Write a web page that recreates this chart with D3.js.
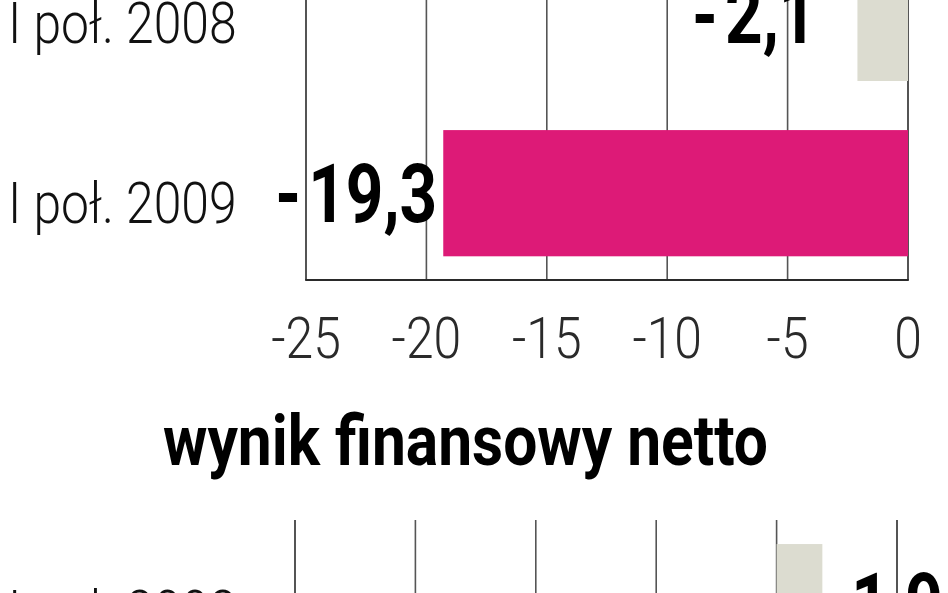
<!DOCTYPE html>
<html>
<head>
<meta charset="utf-8">
<script src="https://cdn.jsdelivr.net/npm/d3@7"></script>
<style>
  html, body { margin: 0; padding: 0; background: #fff; }
  svg { display: block; }
</style>
</head>
<body>
<svg id="chart" width="948" height="593"></svg>
<script>
// ---- data ----
const opCategories = ["I poł. 2008", "I poł. 2009"];
const opValues = [-2.1, -19.3];
const opTicks = [-25, -20, -15, -10, -5, 0];

const netTitle = "wynik finansowy netto";
const netCategories = ["I poł. 2008"];
const netValues = [1.9];
const netTicks = [-20, -15, -10, -5, 0, 5];

// ---- styling ----
const PINK = "#dd1a77";
const GREY = "#dcdcd0";
const fmtAbs = v => d3.format(".1f")(Math.abs(v)).replace(".", ",");

const svg = d3.select("#chart");

function band(cats, top) {
  const step = 175.3, pi = 0.28, po = 0.13;
  return d3.scaleBand().domain(cats)
    .range([top, top + step * (cats.length - pi + 2 * po)])
    .paddingInner(pi).paddingOuter(po);
}

function label(g, txt, x, y, opts) {
  return g.append("text")
    .attr("transform", `translate(${x},${y}) scale(${opts.sx},1)`)
    .attr("text-anchor", opts.anchor || "start")
    .attr("font-family", opts.family || "Roboto")
    .attr("font-weight", opts.weight || 300)
    .attr("font-size", opts.size)
    .attr("fill", opts.fill || "#111")
    .text(txt);
}

function valueLabel(g, v, x, y, anchor) {
  const t = g.append("text")
    .attr("transform", `translate(${x},${y}) scale(0.8,1)`)
    .attr("text-anchor", anchor)
    .attr("font-family", "Roboto")
    .attr("font-weight", 700)
    .attr("font-size", 82)
    .attr("fill", "#000");
  if (v < 0) {
    t.append("tspan").text("-");
    t.append("tspan").attr("dx", 9).text(fmtAbs(v));
  } else {
    t.text(fmtAbs(v));
  }
  return t;
}

function panel(cats, vals, ticks, x0, x1, top, bottom, showAxisLabels, colors) {
  const g = svg.append("g");
  const x = d3.scaleLinear().domain(d3.extent(ticks)).range([x0, x1]);
  const y = band(cats, top);

  // grid lines
  g.selectAll("line.grid").data(ticks).join("line")
    .attr("class", "grid")
    .attr("x1", d => x(d)).attr("x2", d => x(d))
    .attr("y1", top).attr("y2", bottom)
    .attr("stroke", (d, i) => (i === 0 || i === ticks.length - 1) ? "#2a2a2a" : "#555")
    .attr("stroke-width", 1.6);

  if (showAxisLabels) {
    g.append("line")
      .attr("x1", x(ticks[0]) - 0.8).attr("x2", x(ticks[ticks.length - 1]) + 0.8)
      .attr("y1", bottom).attr("y2", bottom)
      .attr("stroke", "#2a2a2a").attr("stroke-width", 1.8);
    ticks.forEach(t => {
      label(g, String(t), x(t), bottom + 78, { sx: 0.86, size: 58, anchor: "middle", fill: "#2a2a2a" });
    });
  }

  // bars
  g.selectAll("rect.bar").data(vals).join("rect")
    .attr("class", "bar")
    .attr("x", d => x(Math.min(0, d)))
    .attr("width", d => Math.abs(x(d) - x(0)))
    .attr("y", (d, i) => y(cats[i]))
    .attr("height", y.bandwidth())
    .attr("fill", (d, i) => colors[i]);

  // category labels
  cats.forEach((c, i) => {
    label(g, c, 8, y(c) + y.bandwidth() / 2 + 25 + i * 5, { sx: 0.86, size: 58, fill: "#111" });
  });

  // value labels
  vals.forEach((v, i) => {
    const cy = y(cats[i]) + y.bandwidth() / 2 + 25 + i * 4;
    if (v < 0) {
      const gap = Math.abs(v) < 5 ? 41 : 6;
      valueLabel(g, v, x(v) - gap, cy, "end");
    } else {
      valueLabel(g, v, x(v) + 29, cy, "start");
    }
  });
  return g;
}

// top panel (operating result)
panel(opCategories, opValues, opTicks, 306, 908, -68, 280, true, [GREY, PINK]);

// title of second panel
svg.append("text")
  .attr("x", 163).attr("y", 465)
  .attr("font-family", "Roboto").attr("font-weight", 700)
  .attr("font-size", 70)
  .attr("textLength", 605).attr("lengthAdjust", "spacingAndGlyphs")
  .attr("fill", "#000")
  .text(netTitle);

// bottom panel (net result)
panel(netCategories, netValues, netTicks, 295, 897, 520, 900, false, [GREY]);
</script>
</body>
</html>
